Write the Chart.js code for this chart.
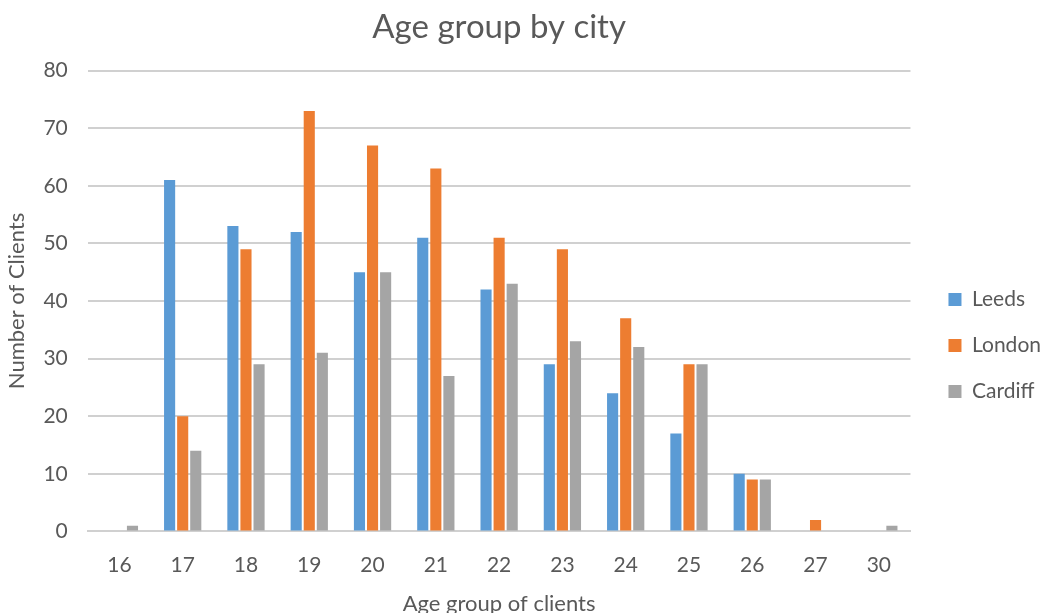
<!DOCTYPE html>
<html>
<head>
<meta charset="utf-8">
<script src="https://cdn.jsdelivr.net/npm/chart.js@4"></script>
<style>
  html, body { margin: 0; padding: 0; background: #fff; }
  #wrap { width: 1045px; height: 613px; }
</style>
</head>
<body>
<div id="wrap"><canvas id="ageChart"></canvas></div>
<script>
var ages = ["16", "17", "18", "19", "20", "21", "22", "23", "24", "25", "26", "27", "30"];
var leeds = [0, 61, 53, 52, 45, 51, 42, 29, 24, 17, 10, 0, 0];
var london = [0, 20, 49, 73, 67, 63, 51, 49, 37, 29, 9, 2, 0];
var cardiff = [1, 14, 29, 31, 45, 27, 43, 33, 32, 29, 9, 0, 1];

var textColor = "#595959";
var fontFamily = "Lato, 'Open Sans', sans-serif";

// Age group chart
var ctxAge = document.getElementById("ageChart").getContext("2d");
new Chart(ctxAge, {
  type: "bar",
  data: {
    labels: ages,
    datasets: [
      {
        label: "Leeds",
        data: leeds,
        backgroundColor: "#5B9BD5",
      },
      {
        label: "London",
        data: london,
        backgroundColor: "#ED7D31",
      },
      {
        label: "Cardiff",
        data: cardiff,
        backgroundColor: "#A5A5A5",
      },
    ],
  },
  options: {
    responsive: true,
    maintainAspectRatio: false,
    animation: false,
    categoryPercentage: 0.62,
    barPercentage: 0.85,
    layout: {
      padding: { left: 4, right: -6, top: 4, bottom: -4 },
    },
    scales: {
      x: {
        grid: { display: false },
        border: { display: true, color: "#d0d0d0", width: 2 },
        ticks: {
          color: textColor,
          padding: 13,
          font: { family: fontFamily, size: 21 },
        },
        title: {
          display: true,
          text: "Age group of clients",
          color: textColor,
          padding: { top: 0, bottom: 0 },
          font: { family: fontFamily, size: 22 },
        },
      },
      y: {
        min: 0,
        max: 80,
        ticks: {
          stepSize: 10,
          color: textColor,
          padding: 20,
          font: { family: fontFamily, size: 21 },
        },
        grid: { color: "#d0d0d0", lineWidth: 2, drawTicks: false },
        border: { display: false },
        title: {
          display: true,
          text: "Number of Clients",
          color: textColor,
          padding: { top: 0, bottom: -7 },
          font: { family: fontFamily, size: 22 },
        },
      },
      // empty gap between the plot and the legend
      gap: {
        type: "linear",
        position: "right",
        grid: { display: false },
        border: { display: false },
        ticks: { display: false },
        afterFit: function (scale) {
          scale.width = 13;
        },
      },
    },
    plugins: {
      title: {
        display: true,
        fullSize: false,
        text: "Age group by city",
        color: textColor,
        padding: { top: 4, bottom: 23 },
        font: { family: fontFamily, size: 33, weight: "normal" },
      },
      legend: {
        display: true,
        position: "right",
        title: {
          display: true,
          text: " ",
          padding: { top: 58, bottom: 0 },
          font: { size: 10 },
        },
        labels: {
          color: textColor,
          boxWidth: 13,
          boxHeight: 13,
          padding: 25,
          font: { family: fontFamily, size: 21 },
        },
      },
      tooltip: { enabled: false },
    },
  },
});
</script>
</body>
</html>
